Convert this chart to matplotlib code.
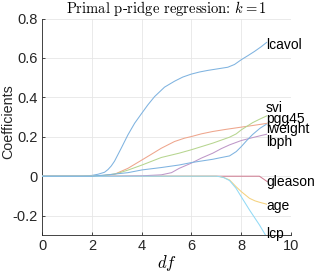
import matplotlib
matplotlib.use("Agg")
import matplotlib.pyplot as plt

plt.rcParams['font.family'] = ['Liberation Sans', 'DejaVu Sans']
plt.rcParams['mathtext.fontset'] = 'cm'

names = ['lcavol', 'lweight', 'age', 'lbph', 'svi', 'lcp', 'gleason', 'pgg45']

df_lcavol = [0, 1.5, 2.0, 2.25, 2.51, 2.65, 2.78, 2.91, 3.18, 3.45, 3.72, 3.98, 4.25, 4.52, 4.92, 5.32, 5.65, 5.99, 6.33, 6.66, 7.06, 7.46, 7.73, 8.0, 8.27, 8.53, 8.8, 9.02]
c_lcavol = [0, 0, 0.004, 0.01, 0.02, 0.034, 0.052, 0.076, 0.142, 0.21, 0.269, 0.315, 0.362, 0.404, 0.452, 0.482, 0.503, 0.518, 0.529, 0.537, 0.545, 0.553, 0.567, 0.591, 0.612, 0.633, 0.657, 0.679]

df_lweight = [0, 2.0, 2.5, 2.91, 3.45, 4.02, 4.4, 4.79, 5.32, 5.72, 5.99, 6.4, 6.86, 7.4, 8.0, 8.5, 9.02]
c_lweight = [0, 0, 0.004, 0.01, 0.04, 0.083, 0.112, 0.142, 0.176, 0.193, 0.201, 0.215, 0.227, 0.238, 0.249, 0.258, 0.268]

df_age = [0, 7.0, 7.13, 7.3, 7.53, 7.79, 8.0, 8.33, 8.55, 8.73, 9.02]
c_age = [0, 0, -0.002, -0.007, -0.019, -0.053, -0.078, -0.112, -0.125, -0.132, -0.142]

df_lbph = [0, 3.0, 4.0, 4.79, 5.2, 5.51, 5.99, 6.4, 6.86, 7.2, 7.53, 8.0, 8.46, 8.75, 9.02]
c_lbph = [0, 0, 0.002, 0.007, 0.018, 0.04, 0.066, 0.092, 0.117, 0.14, 0.159, 0.181, 0.196, 0.205, 0.213]

df_svi = [0, 2.0, 2.5, 3.0, 3.45, 4.02, 4.79, 5.51, 5.99, 6.86, 7.53, 7.8, 8.0, 8.46, 8.75, 9.02]
c_svi = [0, 0, 0.004, 0.013, 0.031, 0.057, 0.095, 0.117, 0.134, 0.168, 0.198, 0.215, 0.235, 0.272, 0.29, 0.306]

df_lcp = [0, 7.0, 7.13, 7.3, 7.53, 7.79, 8.0, 8.33, 8.73, 8.97]
c_lcp = [0, 0, -0.002, -0.007, -0.022, -0.061, -0.104, -0.171, -0.247, -0.298]

df_gleason = [0, 8.73, 9.04]
c_gleason = [0, 0, -0.027]

df_pgg45 = [0, 2.0, 2.7, 3.45, 4.02, 4.79, 5.51, 5.99, 6.86, 7.13, 7.53, 7.8, 8.0, 8.25, 8.46, 8.75, 9.0]
c_pgg45 = [0, 0, 0.008, 0.018, 0.032, 0.044, 0.057, 0.069, 0.086, 0.093, 0.103, 0.125, 0.15, 0.185, 0.212, 0.243, 0.263]

series = [
    (df_lcavol, c_lcavol), (df_lweight, c_lweight), (df_age, c_age), (df_lbph, c_lbph),
    (df_svi, c_svi), (df_lcp, c_lcp), (df_gleason, c_gleason), (df_pgg45, c_pgg45),
]

label_y = {'lcavol': 0.666, 'lweight': 0.242, 'age': -0.149, 'lbph': 0.173,
           'svi': 0.348, 'lcp': -0.295, 'gleason': -0.027, 'pgg45': 0.288}

colors = ['#7fb3e0', '#eea58c', '#f5d27e', '#be97c8', '#b6d58f', '#92daf6', '#d07f93', '#7fb3e0']

yticks = [-0.2, 0, 0.2, 0.4, 0.6, 0.8]
ytick_labels = ['-0.2', '0', '0.2', '0.4', '0.6', '0.8']
xticks = [0, 2, 4, 6, 8, 10]
xtick_labels = ['0', '2', '4', '6', '8', '10']

fig = plt.figure(figsize=(3.16, 2.73), dpi=100)
ax = fig.add_axes([0.133, 0.138, 0.788, 0.794])

for i, (name, (x, y)) in enumerate(zip(names, series)):
    ax.plot(x, y, color=colors[i], lw=0.75, zorder=3 if name != 'gleason' else 2.5)
    ax.text(9.0, label_y[name], name, fontsize=10, va='center', ha='left',
            color='black', clip_on=False, zorder=5)

ax.set_xlim(0, 10)
ax.set_ylim(-0.3, 0.8)
ax.set_xticks(xticks)
ax.set_xticklabels(xtick_labels)
ax.set_yticks(yticks)
ax.set_yticklabels(ytick_labels)
ax.grid(True, color='#e6e6e6', lw=0.6)
ax.set_axisbelow(True)
for s in ['top', 'right']:
    ax.spines[s].set_visible(False)
for s in ['left', 'bottom']:
    ax.spines[s].set_color('#262626')
    ax.spines[s].set_linewidth(0.6)
ax.tick_params(direction='in', length=2.5, width=0.6, labelsize=10.5, colors='#262626',
               labelcolor='#262626', pad=3)

ax.set_title('Primal p-ridge regression: $k=1$', fontsize=10.5, family='cmr10', pad=4)
ax.set_xlabel('$df$', fontsize=12, labelpad=0)
fig.text(8.5 / 316, 0.553, 'Coefficients', fontsize=10.3, rotation=90,
         ha='center', va='center', color='#262626')

fig.savefig('out.png', dpi=100)
